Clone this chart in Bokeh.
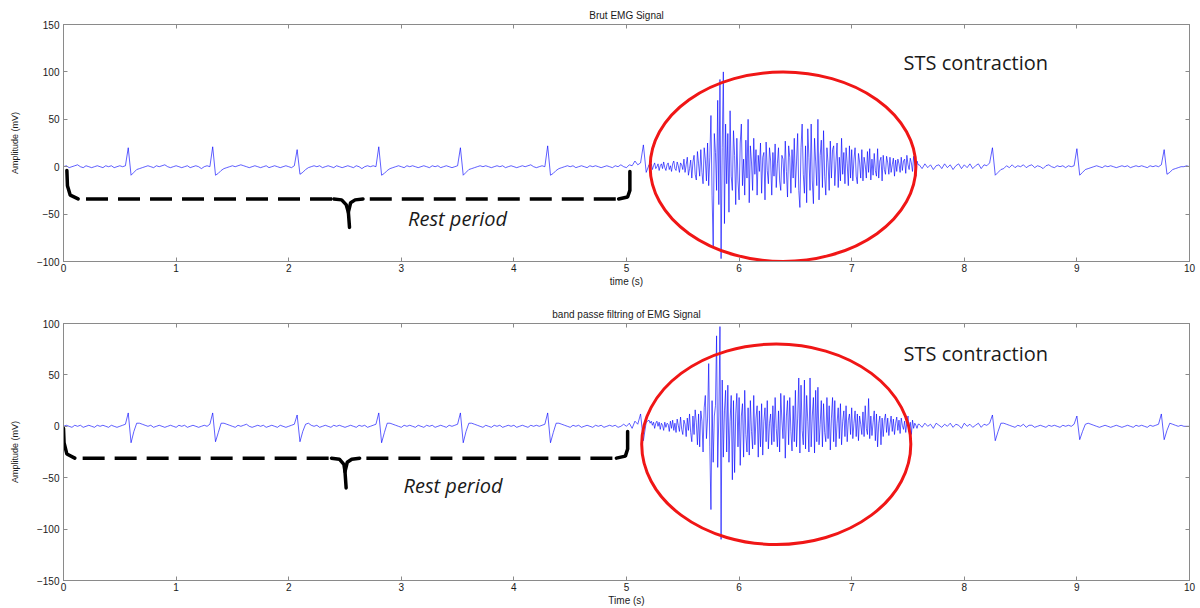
from bokeh.plotting import figure
from bokeh.layouts import column
from bokeh.models import LinearAxis, FixedTicker, Range1d
from bokeh.embed import file_html
from bokeh.resources import INLINE
from bokeh.core.properties import value

# ---------------- data ----------------
# sampling of the three signal segments: (start time, step)
SEG_A = (0.0, 0.025)      # rest period, 0 .. 5.175 s
SEG_B = (5.2, 0.01)       # STS contraction, 5.2 .. 7.59 s
SEG_C = (7.6, 0.025)      # after contraction, 7.6 .. 10 s

x_ticks = [0, 1, 2, 3, 4, 5, 6, 7, 8, 9, 10]
top_y_ticks = [-100, -50, 0, 50, 100, 150]
bot_y_ticks = [-150, -100, -50, 0, 50, 100]

# ---- raw EMG (top panel) ----
top_rest_a = [
    0, 1, -1, 0, 1, 2, 0, -1, 1, 0,
    -1, 0, 1, 0, -1, 1, 0, 1, -1, 0,
    1, 0, 1, 20, -9, -6, -3, -2, -1, 0,
    1, 0, -1, 1, 0, 1, 2, 0, -1, 0,
    1, 0, -1, 0, 1, -1, 0, 1, 0, -2,
    0, 1, 0, 21, -9, -7, -4, -2, -1, 0,
    1, 0, 1, 2, 1, 0, -1, 0, 1, 0,
    -1, 0, 1, -1, 0, 1, 0, -1, 0, 1,
    0, -1, 1, 18, -8, -6, -3, -1, 0, 1,
    0, 1, -1, 0, 1, 0, -1, 1, 0, -1,
    0, 1, 0, -1, 1, 0, -2, 0, 1, 0,
    1, 0, 21, -9, -7, -4, -2, -1, 0, 1,
    0, -1, 1, 0, 1, 0, -1, 0, 1, 0,
    -1, 1, 0, 1, -1, 0, 1, 0, -1, 0,
    1, 20, -9, -6, -3, -2, -1, 0, 1, 0,
    1, 0, -1, 0, 1, 0, 1, -1, 0, 1,
    0, -1, 0, 1, 0, 1, 2, 0, -1, 0,
    1, 0, 22, -9, -7, -4, -2, -1, 0, 1,
    0, 1, -1, 0, 1, 0, -1, 1, 0, 1,
    0, -1, 0, 1, 0, -1, 1, 0, 2, 0,
    -1, 2, 1, 6, 2, 4, 23, -6,
]
top_active = [
    2, -1, 3, -3, 1, 4, -2, 0, 3, -4,
    1, 3, -2, 5, -1, -4, 2, 4, -3, 1,
    -5, 3, 6, -2, -4, 5, 1, -6, 4, 2,
    -3, 8, -6, 2, 10, -9, -2, 7, -12, 5,
    12, -8, -14, 16, 3, -10, 18, -6, -18, 20,
    8, -15, 25, -20, 10, 54, -30, -84, 35, 15,
    -25, 70, -40, 92, -97, 20, 100, -60, 45, -18,
    35, -48, 59, -10, -25, 38, 12, -40, 30, -15,
    -35, 25, 45, -20, 8, -30, 28, -12, 50, -38,
    22, 5, -25, 30, -8, 18, -30, 12, -5, 25,
    -28, 10, 15, -35, 26, -4, -18, 20, 6, -30,
    15, -10, 24, -22, 3, 20, -15, -25, 12, 8,
    -18, 27, -5, -32, 22, 10, -28, 18, -12, 30,
    -22, 5, 35, -25, -43, 20, 45, -8, -28, 22,
    -38, 40, 10, -25, 45, -15, -39, 30, 5, -20,
    50, -35, 12, 28, -22, 38, -10, -30, 20, 4,
    -25, 27, -12, 18, 22, -20, 5, 25, -22, 10,
    -15, 30, -8, 15, -18, 20, 3, -20, 22, -12,
    18, -15, 8, 20, -10, -18, 14, 5, -12, 18,
    -15, 10, 2, -12, 16, -6, 19, -14, 8, -9,
    14, -4, -10, 19, -12, 6, 10, -15, 12, -3,
    -8, 11, 4, -8, 10, -6, 2, 9, -10, 7,
    -5, 8, 3, -6, 10, -4, 6, 8, -7, 12,
    2, -3, 9, 4, -5, 11, 3, -10, 6, 2,
]
top_rest_c = [
    2, -2, 3, -1, 2, -3, 1, 2, -2, 3,
    -1, 2, -3, 1, 3, -2, 2, -1, 3, -2,
    1, 3, -2, 2, 1, 4, 20, -9, -6, -3,
    -2, 1, -1, 2, -1, 1, 0, 2, -1, 1,
    2, -1, 1, 0, -2, 1, 2, 0, -1, 1,
    0, 1, -1, 1, 0, 1, 19, -9, -6, -3,
    -2, -1, 0, 1, 0, -1, 1, 0, 1, 0,
    -1, 0, 1, 0, 1, -1, 0, 1, 0, 1,
    0, -1, 1, 0, 1, 0, 2, 18, -8, -6,
    -3, -2, -1, 0, 0, 1, 0,
]

# ---- band-pass filtered EMG (bottom panel) ----
bot_rest_a = [
    0, 1, 0, -1, 1, 0, 1, -1, 0, 1,
    0, -1, 1, 0, 1, 0, -1, 1, 0, -1,
    0, 1, 2, 13, -16, -5, 3, 3, 2, 1,
    0, 1, -1, 0, 1, 0, -1, 0, 1, 0,
    -1, 1, 0, 1, -1, 0, 1, 0, -1, 0,
    1, 0, 2, 13, -15, -6, 3, 3, 2, 1,
    0, -1, 1, 0, 1, 2, 0, -1, 0, 1,
    0, 1, -1, 0, 1, 0, -1, 1, 0, -1,
    0, 1, 2, 11, -15, -5, 2, 3, 1, 0,
    1, -1, 0, 1, 0, -1, 1, 0, 1, 0,
    -1, 0, 1, 0, -1, 1, 0, 1, -1, 0,
    1, 2, 13, -16, -6, 3, 3, 2, 1, 0,
    -1, 1, 0, 1, 0, -1, 1, 0, -1, 1,
    0, 1, -1, 0, 1, 0, -1, 1, 0, 1,
    2, 13, -16, -5, 3, 3, 2, 1, 0, -1,
    1, 0, -1, 1, 0, 1, -1, 0, 1, 0,
    1, -1, 0, 1, 0, -1, 1, 0, 1, 0,
    1, 2, 13, -16, -6, 3, 3, 2, 1, 0,
    -1, 1, 0, 1, -1, 0, 1, 0, -1, 1,
    0, 1, -1, 0, 1, 0, 1, -1, 0, 2,
    0, 3, -2, 5, 2, 12, -14, 4,
]
bot_active = [
    6, 3, 5, 1, 4, -2, 3, 5, 0, 4,
    -3, 3, 1, -4, 4, -1, 3, 2, -5, 5,
    -2, 6, -4, 3, -6, 7, 1, -5, 9, -3,
    -8, 6, 2, -10, 8, -4, 12, -6, -15, 10,
    -8, 16, 4, -18, 12, -20, 15, 5, -25, 18,
    30, -12, 8, 61, -20, -81, 25, -35, 10, 20,
    88, -40, 10, 97, -110, 45, -30, 15, 35, -25,
    40, -35, 5, 30, -52, 25, -45, 12, 32, -20,
    28, -38, 10, 22, -30, 35, -8, -25, 18, -28,
    25, -5, -22, 30, -18, 8, 20, -30, 15, -20,
    22, -28, 5, 18, -15, 25, -22, 3, 12, -18,
    20, -15, 28, -2, -20, 15, -25, 32, 6, -12,
    30, -31, 10, 25, -18, 28, -5, -24, 20, -15,
    35, -20, 8, 47, -26, 40, -4, -18, 45, -22,
    30, 5, -25, 47, -20, 10, 28, -26, 35, -15,
    38, -18, 2, 25, -20, 22, -6, -15, 28, -12,
    20, -23, 8, 28, -15, 25, -20, 3, 18, -12,
    22, -18, 5, 15, -10, 20, -15, 6, 12, -8,
    18, -12, 3, 15, -10, 12, -14, 10, 2, -8,
    14, -10, 20, -2, -8, 27, -12, 10, -9, 4,
    15, -14, 12, -20, 3, 10, -18, 8, -10, 6,
    12, -6, 8, -9, 2, 10, -5, 7, -8, 3,
    9, -4, 6, -7, 8, 1, -3, 5, -6, 4,
    10, -3, 4, -8, 6, -2, 3, 1, -2, 2,
]
bot_rest_c = [
    2, -1, 3, 0, 2, -2, 3, 1, -1, 2,
    0, 3, -1, 2, 1, -2, 3, 0, 2, -1,
    1, 3, -1, 2, 1, 3, 11, -14, -5, 3,
    3, 2, 1, 0, -1, 1, 0, 2, -1, 1,
    1, -1, 0, 1, 0, -1, 1, 0, 1, 0,
    -1, 1, 0, 1, 0, 2, 10, -13, -5, 2,
    3, 2, 1, 0, -1, 0, 1, 0, -1, 0,
    1, 0, -1, 0, 1, 0, -1, 1, 0, 1,
    0, -1, 1, 0, 1, 2, 12, -13, -4, 3,
    2, 1, 0, 1, 0, 0, 0,
]

# ---- annotations (data coordinates) ----
top_ellipse = dict(x=6.39, y=0, w=2.36, h=200)
bot_ellipse = dict(x=6.33, y=-17.5, w=2.39, h=195)
# curly "rest period" brace: solid ends and tip, dashed horizontal runs
top_brace = dict(
    left_end=([0.03, 0.035, 0.06, 0.13], [-4, -20, -30, -34]),
    run1=([0.2, 2.42], [-34, -34]),
    tip_l=([2.40, 2.47, 2.51, 2.53, 2.54], [-34, -35, -40, -48, -64]),
    tip_r=([2.53, 2.55, 2.59, 2.66], [-48, -38, -35, -34]),
    run2=([2.72, 4.95], [-34, -34]),
    right_end=([4.93, 5.01, 5.03, 5.03], [-34, -32, -25, -5]),
)
bot_brace = dict(
    left_end=([0.0, 0.005, 0.03, 0.1], [-2, -16, -27, -31]),
    run1=([0.17, 2.40], [-31, -31]),
    tip_l=([2.38, 2.45, 2.49, 2.50, 2.51], [-31, -32, -37, -44, -60]),
    tip_r=([2.50, 2.52, 2.56, 2.63], [-44, -35, -32, -31]),
    run2=([2.69, 4.93], [-31, -31]),
    right_end=([4.91, 4.99, 5.01, 5.01], [-31, -29, -22, -5]),
)
top_rest_label = dict(x=3.06, y=-55, text="Rest period")
bot_rest_label = dict(x=3.02, y=-58, text="Rest period")
top_sts_label = dict(x=7.46, y=110, text="STS contraction")
bot_sts_label = dict(x=7.46, y=71, text="STS contraction")


def times(seg, n):
    start, step = seg
    return [round(start + i * step, 5) for i in range(n)]


top_t = times(SEG_A, len(top_rest_a)) + times(SEG_B, len(top_active)) + times(SEG_C, len(top_rest_c))
top_v = top_rest_a + top_active + top_rest_c
bot_t = times(SEG_A, len(bot_rest_a)) + times(SEG_B, len(bot_active)) + times(SEG_C, len(bot_rest_c))
bot_v = bot_rest_a + bot_active + bot_rest_c

AX = "#8a8a8a"
TXT = "#1a1a1a"
FONT = "Liberation Sans"


def panel(title, t, v, yr, yticks, xlabel, height, borders, ell, brace, rest, sts):
    left, right, top, bottom = borders
    p = figure(width=1200, height=height, x_range=Range1d(0, 10), y_range=Range1d(*yr),
               output_backend="svg", toolbar_location=None, title=title,
               min_border_left=left, min_border_right=right,
               min_border_top=top, min_border_bottom=bottom)
    p.title.align = "center"
    p.title.text_font = FONT
    p.title.text_font_size = "10px"
    p.title.text_font_style = "normal"
    p.title.text_color = TXT
    p.title.standoff = 8
    p.grid.visible = False
    p.outline_line_color = AX
    p.background_fill_color = "white"
    p.border_fill_color = "white"

    xa = p.below[0]
    ya = p.left[0]
    xa.ticker = FixedTicker(ticks=x_ticks)
    ya.ticker = FixedTicker(ticks=yticks)
    for ax in (xa, ya):
        ax.major_tick_in = 4
        ax.major_tick_out = 0
        ax.minor_tick_in = 0
        ax.minor_tick_out = 0
        ax.axis_line_color = AX
        ax.major_tick_line_color = AX
        ax.major_label_text_font = FONT
        ax.major_label_text_font_size = "10px"
        ax.major_label_text_color = TXT
        ax.axis_label_text_font = FONT
        ax.axis_label_text_font_style = "normal"
        ax.axis_label_text_color = TXT
    xa.axis_label = xlabel
    xa.axis_label_text_font_size = "10px"
    xa.major_label_standoff = 2
    xa.axis_label_standoff = 1
    ya.axis_label = "Amplitude (mV)"
    ya.axis_label_text_font_size = "9px"
    ya.major_label_standoff = 4
    ya.axis_label_standoff = 14

    # mirrored (box) ticks on top and right, no labels drawn
    for loc, ticks in (("above", x_ticks), ("right", yticks)):
        m = LinearAxis(ticker=FixedTicker(ticks=ticks), major_label_text_font_size="0px",
                       major_label_text_color=None, major_label_standoff=0,
                       major_tick_in=4, major_tick_out=0,
                       minor_tick_in=0, minor_tick_out=0, axis_line_color=AX,
                       major_tick_line_color=AX)
        p.add_layout(m, loc)

    p.line(t, v, line_color="#0000ff", line_alpha=0.7, line_width=0.9)

    p.ellipse(x=[ell["x"]], y=[ell["y"]], width=[ell["w"]], height=[ell["h"]],
              fill_color=None, line_color="#f01616", line_width=3)

    for key in ("left_end", "tip_l", "tip_r", "right_end"):
        bx, by = brace[key]
        p.line(bx, by, line_color="black", line_width=3.5, line_cap="round")
    for key in ("run1", "run2"):
        bx, by = brace[key]
        p.line(bx, by, line_color="black", line_width=3.5, line_dash="22 10")

    p.text(x=[rest["x"]], y=[rest["y"]], text=[rest["text"]], text_font=value("Open Sans"),
           text_font_style="italic", text_font_size="20px", text_color=TXT,
           text_baseline="middle", text_align="left")
    p.text(x=[sts["x"]], y=[sts["y"]], text=[sts["text"]], text_font=value("Open Sans"),
           text_font_size="20px", text_color=TXT, text_baseline="middle", text_align="left")
    return p


p1 = panel("Brut EMG Signal", top_t, top_v, (-100, 150), top_y_ticks, "time (s)",
           289, (63, 11, 24, 26), top_ellipse, top_brace, top_rest_label, top_sts_label)
p2 = panel("band passe filtring of EMG Signal", bot_t, bot_v, (-150, 100), bot_y_ticks, "Time (s)",
           319, (63, 11, 34, 26), bot_ellipse, bot_brace, bot_rest_label, bot_sts_label)

layout = column(p1, p2, spacing=0)
open("out.html", "w").write(file_html(layout, INLINE))
